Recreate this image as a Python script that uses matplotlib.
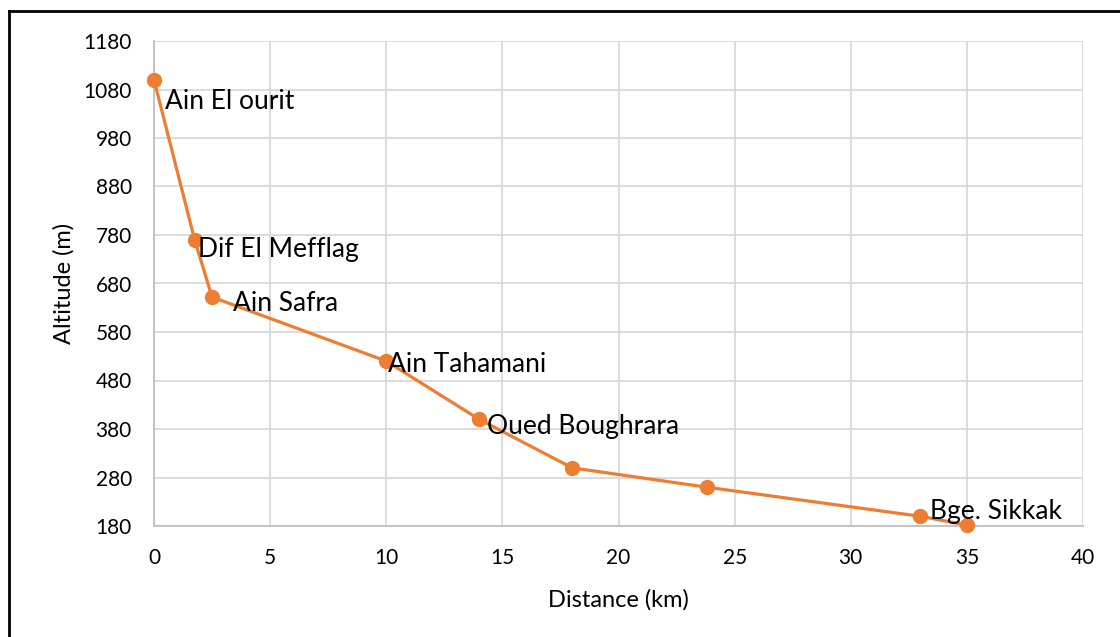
import matplotlib.pyplot as plt
from matplotlib.lines import Line2D

# Profile data (distance in km, altitude in m)
distance = [0, 1.75, 2.5, 10, 14, 18, 23.8, 33, 35]
altitude = [1100, 770, 652, 520, 400, 300, 260, 200, 182]
labels = ['Ain El ourit', 'Dif El Mefflag', 'Ain Safra', 'Ain Tahamani',
          'Oued Boughrara', '', '', 'Bge. Sikkak', '']

x_ticks = [0, 5, 10, 15, 20, 25, 30, 35, 40]
y_ticks = [180, 280, 380, 480, 580, 680, 780, 880, 980, 1080, 1180]

# label offsets in pixels (dx, dy)
offsets = [(11, -22), (3, -10), (21, -6), (2, -3), (8, -7), (0, 0), (0, 0), (10, 5), (0, 0)]

plt.rcParams['font.family'] = ['Lato', 'DejaVu Sans']

fig = plt.figure(figsize=(11.2, 6.37), dpi=100)
ax = fig.add_axes([154 / 1120, 1 - 526 / 637, (1083 - 154) / 1120, (526 - 41) / 637])

ax.plot(distance, altitude, color='#ED7D31', linewidth=2.3, marker='o',
        markersize=10, zorder=3, clip_on=False)

for x, y, lab, off in zip(distance, altitude, labels, offsets):
    if lab:
        ax.annotate(lab, (x, y), xytext=(off[0] * 0.72, off[1] * 0.72),
                    textcoords='offset points', fontsize=19, ha='left',
                    va='center', color='black', zorder=4)

ax.set_xlim(0, 40)
ax.set_ylim(180, 1180)
ax.set_xticks(x_ticks)
ax.set_yticks(y_ticks)
ax.tick_params(length=0, labelsize=15, pad=16)
ax.tick_params(axis='y', pad=16)
ax.grid(True, color='#D9D9D9', linewidth=1.3)
ax.set_axisbelow(True)
for s in ['top', 'right']:
    ax.spines[s].set_visible(False)
for s in ['left', 'bottom']:
    ax.spines[s].set_color('#BFBFBF')
    ax.spines[s].set_linewidth(1.3)

ax.set_xlabel('Distance (km)', fontsize=17, labelpad=15)
ax.set_ylabel('Altitude (m)', fontsize=17, labelpad=6)

# outer frame (only top and left visible in the crop)
fig.add_artist(Line2D([9 / 1120, 1], [1 - 11 / 637, 1 - 11 / 637], color='black', linewidth=2))
fig.add_artist(Line2D([9 / 1120, 9 / 1120], [0, 1 - 11 / 637], color='black', linewidth=2))

fig.savefig('out.png', dpi=100)
